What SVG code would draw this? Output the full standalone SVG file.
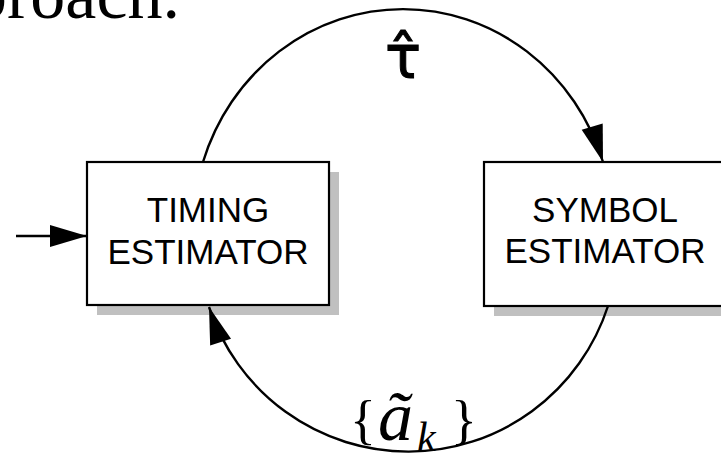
<svg xmlns="http://www.w3.org/2000/svg" width="721" height="461" viewBox="0 0 721 461">
<style>
.box{fill:#fff;stroke:#000;stroke-width:2.2}
.shadow{fill:#c0c0c0}
.lbl{font-family:"Liberation Sans",Arial,sans-serif;font-size:35px;fill:#000;text-anchor:middle}
.conn{fill:none;stroke:#000;stroke-width:2.4}
.math{font-family:"Liberation Serif","Times New Roman",serif;fill:#000}
</style>
<defs>
<marker id="ah" markerUnits="userSpaceOnUse" markerWidth="38" markerHeight="22" refX="37" refY="11" orient="auto" overflow="visible">
<path d="M0,0 L37,11 L0,22 z" fill="#000"/>
</marker>
</defs>
<text class="math" x="180" y="18" font-size="70" text-anchor="end">proach.</text>
<g id="timing">
<rect class="shadow" x="97" y="172" width="242" height="143"/>
<rect class="box" x="87" y="162" width="242" height="143"/>
<text class="lbl" x="208" y="222">TIMING</text>
<text class="lbl" x="208" y="264">ESTIMATOR</text>
</g>
<g id="symbol">
<rect class="shadow" x="494" y="172" width="242" height="144"/>
<rect class="box" x="484" y="162" width="242" height="144"/>
<text class="lbl" x="605" y="222">SYMBOL</text>
<text class="lbl" x="605" y="263">ESTIMATOR</text>
</g>
<g id="connectors">
<path class="conn" d="M16,236 L87,236" marker-end="url(#ah)"/>
<path class="conn" d="M203,162 A210,220 0 0 1 603,162" marker-end="url(#ah)"/>
<path class="conn" d="M608,306 A210,211 0 0 1 209,307" marker-end="url(#ah)"/>
</g>
<text x="403" y="78" font-family="DejaVu Sans,sans-serif" font-size="60" text-anchor="middle" fill="#000" stroke="#000" stroke-width="1">τ̂</text>
<text class="math"><tspan x="350" y="438" font-size="54">{</tspan><tspan x="378" y="440" font-size="70" font-style="italic">ã</tspan><tspan x="417" y="451" font-size="42" font-style="italic">k</tspan><tspan x="451" y="438" font-size="54">}</tspan></text>
</svg>
